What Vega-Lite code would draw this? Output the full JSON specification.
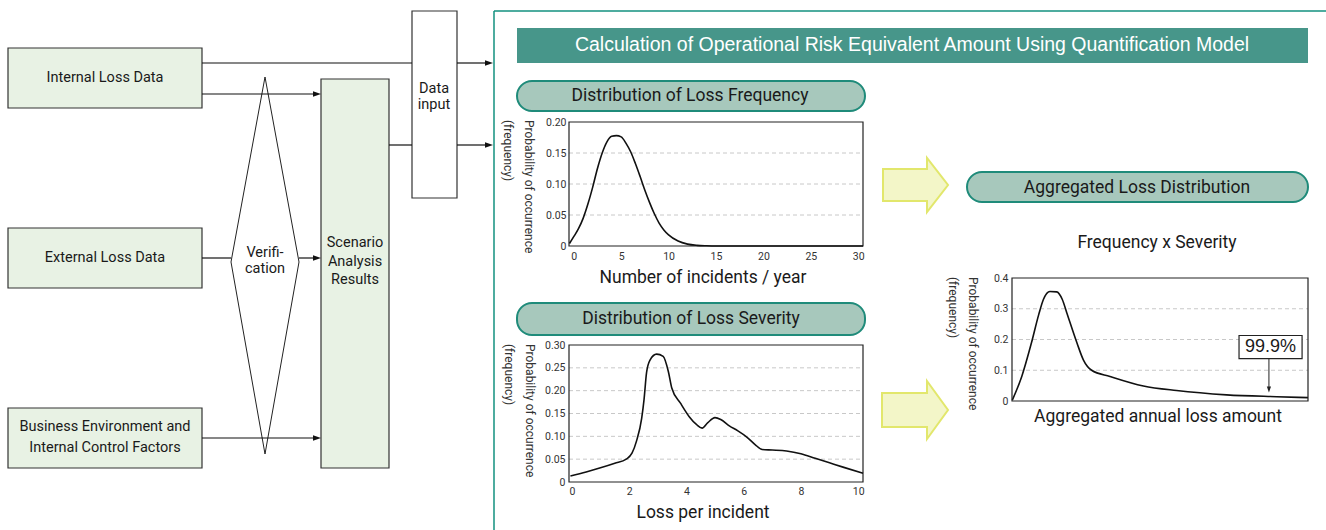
{
  "$schema": "https://vega.github.io/schema/vega-lite/v6.json",
  "width": 1326,
  "height": 530,
  "padding": 0,
  "autosize": {"type": "none"},
  "background": "white",
  "config": {
    "view": {"stroke": null},
    "font": "Roboto",
    "axis": {"labelColor": "#333333", "labelFont": "Roboto"}
  },
  "datasets": {
    "freq": [
      {"x": -0.45, "y": 0.004}, {"x": 0, "y": 0.015}, {"x": 0.5, "y": 0.028}, {"x": 1, "y": 0.045},
      {"x": 1.5, "y": 0.068}, {"x": 2, "y": 0.095}, {"x": 2.5, "y": 0.125}, {"x": 3, "y": 0.15},
      {"x": 3.5, "y": 0.168}, {"x": 4, "y": 0.177}, {"x": 4.5, "y": 0.178}, {"x": 5, "y": 0.176},
      {"x": 5.5, "y": 0.166}, {"x": 6, "y": 0.152}, {"x": 6.5, "y": 0.133}, {"x": 7, "y": 0.112},
      {"x": 7.5, "y": 0.09}, {"x": 8, "y": 0.07}, {"x": 8.5, "y": 0.052}, {"x": 9, "y": 0.037},
      {"x": 9.5, "y": 0.026}, {"x": 10, "y": 0.018}, {"x": 11, "y": 0.008}, {"x": 12, "y": 0.003},
      {"x": 13, "y": 0.001}, {"x": 14, "y": 0.0003}, {"x": 15, "y": 0}, {"x": 20, "y": 0},
      {"x": 25, "y": 0}, {"x": 30, "y": 0}, {"x": 30.5, "y": 0}
    ],
    "sev": [
      {"x": -0.05, "y": 0.013}, {"x": 0.5, "y": 0.022}, {"x": 1, "y": 0.031}, {"x": 1.5, "y": 0.041},
      {"x": 1.9, "y": 0.05}, {"x": 2.1, "y": 0.063}, {"x": 2.26, "y": 0.09}, {"x": 2.44, "y": 0.14},
      {"x": 2.52, "y": 0.18}, {"x": 2.61, "y": 0.24}, {"x": 2.73, "y": 0.267}, {"x": 2.96, "y": 0.28},
      {"x": 3.19, "y": 0.275}, {"x": 3.37, "y": 0.242}, {"x": 3.49, "y": 0.206}, {"x": 3.8, "y": 0.172},
      {"x": 4.1, "y": 0.143}, {"x": 4.35, "y": 0.126}, {"x": 4.55, "y": 0.118}, {"x": 4.75, "y": 0.13},
      {"x": 5.0, "y": 0.141}, {"x": 5.2, "y": 0.137}, {"x": 5.5, "y": 0.123}, {"x": 5.8, "y": 0.112},
      {"x": 6.1, "y": 0.099}, {"x": 6.4, "y": 0.082}, {"x": 6.65, "y": 0.071}, {"x": 7.0, "y": 0.07},
      {"x": 7.5, "y": 0.068}, {"x": 8.0, "y": 0.062}, {"x": 8.5, "y": 0.052}, {"x": 9, "y": 0.042},
      {"x": 9.5, "y": 0.032}, {"x": 10.17, "y": 0.019}
    ],
    "agg": [
      {"x": 0.1, "y": 0.003}, {"x": 3.3, "y": 0.08}, {"x": 6.6, "y": 0.19}, {"x": 9, "y": 0.28},
      {"x": 10.6, "y": 0.33}, {"x": 12.8, "y": 0.356}, {"x": 15.1, "y": 0.355}, {"x": 17, "y": 0.33},
      {"x": 18.5, "y": 0.287}, {"x": 21.9, "y": 0.19}, {"x": 24.1, "y": 0.134}, {"x": 26.9, "y": 0.1},
      {"x": 33.1, "y": 0.08}, {"x": 44.4, "y": 0.049}, {"x": 55.6, "y": 0.034}, {"x": 72.5, "y": 0.02},
      {"x": 89.4, "y": 0.014}, {"x": 100, "y": 0.011}
    ]
  },
  "layer": [
    {
      "layer": [
        {
          "data": {"values": [
            {"x": 494, "y": 11, "x2": 494, "y2": 530},
            {"x": 494, "y": 11, "x2": 1326, "y2": 11}
          ]},
          "mark": {"type": "rule", "color": "#13917f", "strokeWidth": 1.5},
          "encoding": {
            "x": {"field": "x", "type": "quantitative", "scale": {"domain": [0, 1326], "range": [0, 1326], "nice": false, "zero": false}, "axis": null},
            "y": {"field": "y", "type": "quantitative", "scale": {"domain": [0, 530], "range": [0, 530], "nice": false, "zero": false}, "axis": null},
            "x2": {"field": "x2"},
            "y2": {"field": "y2"}
          }
        },
        {
          "data": {"values": [
            {"x": 8, "x2": 202, "y": 48, "y2": 108},
            {"x": 8, "x2": 202, "y": 228, "y2": 288},
            {"x": 8, "x2": 202, "y": 408, "y2": 468},
            {"x": 321, "x2": 389, "y": 79, "y2": 468}
          ]},
          "mark": {"type": "rect", "fill": "#e8f2e4", "stroke": "#333333", "strokeWidth": 1.2},
          "encoding": {
            "x": {"field": "x", "type": "quantitative"}, "x2": {"field": "x2"},
            "y": {"field": "y", "type": "quantitative"}, "y2": {"field": "y2"}
          }
        },
        {
          "data": {"values": [{"x": 412, "x2": 457, "y": 11, "y2": 198}]},
          "mark": {"type": "rect", "fill": "white", "stroke": "#333333", "strokeWidth": 1.2},
          "encoding": {
            "x": {"field": "x", "type": "quantitative"}, "x2": {"field": "x2"},
            "y": {"field": "y", "type": "quantitative"}, "y2": {"field": "y2"}
          }
        },
        {
          "data": {"values": [{"x": 517, "x2": 1308, "y": 28, "y2": 63}]},
          "mark": {"type": "rect", "fill": "#47968a"},
          "encoding": {
            "x": {"field": "x", "type": "quantitative"}, "x2": {"field": "x2"},
            "y": {"field": "y", "type": "quantitative"}, "y2": {"field": "y2"}
          }
        },
        {
          "data": {"values": [
            {"x": 517, "x2": 865, "y": 81, "y2": 111},
            {"x": 517, "x2": 865, "y": 303, "y2": 335},
            {"x": 967, "x2": 1308, "y": 172, "y2": 202}
          ]},
          "mark": {"type": "rect", "fill": "#a7c8bc", "stroke": "#1f8b7a", "strokeWidth": 2, "cornerRadius": 15},
          "encoding": {
            "x": {"field": "x", "type": "quantitative"}, "x2": {"field": "x2"},
            "y": {"field": "y", "type": "quantitative"}, "y2": {"field": "y2"}
          }
        },
        {
          "data": {"values": [
            {"id": "v", "o": 1, "x": 265, "y": 77},
            {"id": "v", "o": 2, "x": 299, "y": 262},
            {"id": "v", "o": 3, "x": 265, "y": 454},
            {"id": "v", "o": 4, "x": 231, "y": 262}
          ]},
          "mark": {"type": "line", "interpolate": "linear-closed", "fill": "white", "stroke": "#222222", "strokeWidth": 1},
          "encoding": {
            "x": {"field": "x", "type": "quantitative"},
            "y": {"field": "y", "type": "quantitative"},
            "detail": {"field": "id"},
            "order": {"field": "o", "type": "quantitative"}
          }
        },
        {
          "data": {"values": [
            {"id": "a1", "o": 1, "x": 883, "y": 169}, {"id": "a1", "o": 2, "x": 927, "y": 169},
            {"id": "a1", "o": 3, "x": 927, "y": 158}, {"id": "a1", "o": 4, "x": 948, "y": 185},
            {"id": "a1", "o": 5, "x": 927, "y": 212}, {"id": "a1", "o": 6, "x": 927, "y": 201},
            {"id": "a1", "o": 7, "x": 883, "y": 201},
            {"id": "a2", "o": 1, "x": 882, "y": 393}, {"id": "a2", "o": 2, "x": 927, "y": 393},
            {"id": "a2", "o": 3, "x": 927, "y": 381}, {"id": "a2", "o": 4, "x": 948, "y": 410},
            {"id": "a2", "o": 5, "x": 927, "y": 439}, {"id": "a2", "o": 6, "x": 927, "y": 427},
            {"id": "a2", "o": 7, "x": 882, "y": 427}
          ]},
          "mark": {"type": "line", "interpolate": "linear-closed", "fill": "#f3f6c8", "stroke": "#e2e76c", "strokeWidth": 2},
          "encoding": {
            "x": {"field": "x", "type": "quantitative"},
            "y": {"field": "y", "type": "quantitative"},
            "detail": {"field": "id"},
            "order": {"field": "o", "type": "quantitative"}
          }
        },
        {
          "data": {"values": [
            {"x": 202, "y": 63, "x2": 412, "y2": 63},
            {"x": 457, "y": 63, "x2": 486, "y2": 63},
            {"x": 202, "y": 94, "x2": 314, "y2": 94},
            {"x": 202, "y": 258, "x2": 231, "y2": 258},
            {"x": 299, "y": 258, "x2": 314, "y2": 258},
            {"x": 202, "y": 438, "x2": 314, "y2": 438},
            {"x": 389, "y": 145, "x2": 412, "y2": 145},
            {"x": 457, "y": 145, "x2": 486, "y2": 145}
          ]},
          "mark": {"type": "rule", "color": "#111111", "strokeWidth": 1.2},
          "encoding": {
            "x": {"field": "x", "type": "quantitative"}, "x2": {"field": "x2"},
            "y": {"field": "y", "type": "quantitative"}, "y2": {"field": "y2"}
          }
        },
        {
          "data": {"values": [
            {"x": 317, "y": 94}, {"x": 317, "y": 258}, {"x": 317, "y": 438},
            {"x": 489, "y": 63}, {"x": 489, "y": 145}
          ]},
          "mark": {"type": "point", "shape": "M-1,-0.7L1,0L-1,0.7Z", "filled": true, "color": "#111111", "size": 64, "opacity": 1, "strokeWidth": 0},
          "encoding": {
            "x": {"field": "x", "type": "quantitative"},
            "y": {"field": "y", "type": "quantitative"}
          }
        },
        {
          "data": {"values": [
            {"x": 105, "y": 78, "t": "Internal Loss Data"},
            {"x": 105, "y": 258, "t": "External Loss Data"},
            {"x": 105, "y": 427, "t": "Business Environment and"},
            {"x": 105, "y": 448, "t": "Internal Control Factors"},
            {"x": 265, "y": 253, "t": "Verifi-"},
            {"x": 265, "y": 269, "t": "cation"},
            {"x": 355, "y": 243, "t": "Scenario"},
            {"x": 355, "y": 262, "t": "Analysis"},
            {"x": 355, "y": 280, "t": "Results"},
            {"x": 434, "y": 89, "t": "Data"},
            {"x": 434, "y": 105, "t": "input"}
          ]},
          "mark": {"type": "text", "fontSize": 14.5, "align": "center", "baseline": "middle", "color": "#1a1a1a"},
          "encoding": {
            "x": {"field": "x", "type": "quantitative"},
            "y": {"field": "y", "type": "quantitative"},
            "text": {"field": "t"}
          }
        },
        {
          "data": {"values": [
            {"x": 690, "y": 96, "t": "Distribution of Loss Frequency"},
            {"x": 691, "y": 319, "t": "Distribution of Loss Severity"},
            {"x": 1137, "y": 188, "t": "Aggregated Loss Distribution"},
            {"x": 1157, "y": 243, "t": "Frequency x Severity"},
            {"x": 703, "y": 278, "t": "Number of incidents / year"},
            {"x": 703, "y": 513, "t": "Loss per incident"},
            {"x": 1158, "y": 417, "t": "Aggregated annual loss amount"}
          ]},
          "mark": {"type": "text", "fontSize": 17.5, "align": "center", "baseline": "middle", "color": "#1a1a1a"},
          "encoding": {
            "x": {"field": "x", "type": "quantitative"},
            "y": {"field": "y", "type": "quantitative"},
            "text": {"field": "t"}
          }
        },
        {
          "data": {"values": [
            {"x": 529, "y": 120, "t": "Probability of occurrence"},
            {"x": 508, "y": 120, "t": "(frequency)"},
            {"x": 530, "y": 344, "t": "Probability of occurrence"},
            {"x": 509, "y": 344, "t": "(frequency)"},
            {"x": 973, "y": 277, "t": "Probability of occurrence"},
            {"x": 953, "y": 277, "t": "(frequency)"}
          ]},
          "mark": {"type": "text", "fontSize": 12, "align": "left", "baseline": "middle", "angle": 90, "color": "#333333"},
          "encoding": {
            "x": {"field": "x", "type": "quantitative"},
            "y": {"field": "y", "type": "quantitative"},
            "text": {"field": "t"}
          }
        },
        {
          "data": {"values": [
            {"x": 912, "y": 45, "t": "Calculation of Operational Risk Equivalent Amount Using Quantification Model"}
          ]},
          "mark": {"type": "text", "fontSize": 19.5, "font": "Liberation Sans, Arial, sans-serif", "align": "center", "baseline": "middle", "color": "white"},
          "encoding": {
            "x": {"field": "x", "type": "quantitative"},
            "y": {"field": "y", "type": "quantitative"},
            "text": {"field": "t"}
          }
        }
      ]
    },
    {
      "layer": [
        {
          "data": {"values": [{"g": 0.05}, {"g": 0.1}, {"g": 0.15}]},
          "mark": {"type": "rule", "color": "#c8c8c8", "strokeDash": [4, 3], "strokeWidth": 1},
          "encoding": {
            "y": {"field": "g", "type": "quantitative",
              "scale": {"domain": [0, 0.2], "range": [246, 122], "nice": false, "zero": false},
              "axis": {"orient": "left", "offset": -569, "values": [0, 0.05, 0.1, 0.15, 0.2], "labelExpr": "datum.value == 0 ? '0' : format(datum.value, '.2f')", "grid": false, "domain": false, "ticks": false, "labelPadding": 3, "labelFontSize": 10.5, "title": null}},
            "x": {"datum": -0.5, "type": "quantitative",
              "scale": {"domain": [-0.5, 30.5], "range": [569, 863], "nice": false, "zero": false},
              "axis": {"orient": "bottom", "offset": -284, "values": [0, 5, 10, 15, 20, 25, 30], "format": "d", "grid": false, "domain": false, "ticks": false, "labelPadding": 5, "labelFontSize": 10.5, "labelFlush": false, "title": null}},
            "x2": {"datum": 30.5}
          }
        },
        {
          "data": {"values": [{}]},
          "mark": {"type": "rect", "filled": false, "color": "#222222", "strokeWidth": 1.2},
          "encoding": {
            "x": {"datum": -0.5, "type": "quantitative"}, "x2": {"datum": 30.5},
            "y": {"datum": 0, "type": "quantitative"}, "y2": {"datum": 0.2}
          }
        },
        {
          "data": {"name": "freq"},
          "mark": {"type": "line", "interpolate": "monotone", "color": "#111111", "strokeWidth": 1.6},
          "encoding": {
            "x": {"field": "x", "type": "quantitative"},
            "y": {"field": "y", "type": "quantitative"}
          }
        }
      ]
    },
    {
      "layer": [
        {
          "data": {"values": [{"g": 0.05}, {"g": 0.1}, {"g": 0.15}, {"g": 0.2}, {"g": 0.25}]},
          "mark": {"type": "rule", "color": "#c8c8c8", "strokeDash": [4, 3], "strokeWidth": 1},
          "encoding": {
            "y": {"field": "g", "type": "quantitative",
              "scale": {"domain": [0, 0.3], "range": [482, 345], "nice": false, "zero": false},
              "axis": {"orient": "left", "offset": -569, "values": [0, 0.05, 0.1, 0.15, 0.2, 0.25, 0.3], "labelExpr": "datum.value == 0 ? '0' : format(datum.value, '.2f')", "grid": false, "domain": false, "ticks": false, "labelPadding": 4, "labelFontSize": 10.5, "title": null}},
            "x": {"datum": -0.1, "type": "quantitative",
              "scale": {"domain": [-0.1, 10.17], "range": [569, 863], "nice": false, "zero": false},
              "axis": {"orient": "bottom", "offset": -48, "values": [0, 2, 4, 6, 8, 10], "format": "d", "grid": false, "domain": false, "ticks": false, "labelPadding": 4, "labelFontSize": 10.5, "labelFlush": false, "title": null}},
            "x2": {"datum": 10.17}
          }
        },
        {
          "data": {"values": [{}]},
          "mark": {"type": "rect", "filled": false, "color": "#222222", "strokeWidth": 1.2},
          "encoding": {
            "x": {"datum": -0.1, "type": "quantitative"}, "x2": {"datum": 10.17},
            "y": {"datum": 0, "type": "quantitative"}, "y2": {"datum": 0.3}
          }
        },
        {
          "data": {"name": "sev"},
          "mark": {"type": "line", "interpolate": "monotone", "color": "#111111", "strokeWidth": 1.6},
          "encoding": {
            "x": {"field": "x", "type": "quantitative"},
            "y": {"field": "y", "type": "quantitative"}
          }
        }
      ]
    },
    {
      "layer": [
        {
          "data": {"values": [{"g": 0.1}, {"g": 0.2}, {"g": 0.3}]},
          "mark": {"type": "rule", "color": "#c8c8c8", "strokeDash": [4, 3], "strokeWidth": 1},
          "encoding": {
            "y": {"field": "g", "type": "quantitative",
              "scale": {"domain": [0, 0.4], "range": [401, 278], "nice": false, "zero": false},
              "axis": {"orient": "left", "offset": -1012, "values": [0, 0.1, 0.2, 0.3, 0.4], "labelExpr": "datum.value == 0 ? '0' : format(datum.value, '.1f')", "grid": false, "domain": false, "ticks": false, "labelPadding": 4, "labelFontSize": 10.5, "title": null}},
            "x": {"datum": 0, "type": "quantitative",
              "scale": {"domain": [0, 100], "range": [1012, 1308], "nice": false, "zero": false},
              "axis": null},
            "x2": {"datum": 100}
          }
        },
        {
          "data": {"name": "agg"},
          "mark": {"type": "line", "interpolate": "monotone", "color": "#111111", "strokeWidth": 1.6},
          "encoding": {
            "x": {"field": "x", "type": "quantitative"},
            "y": {"field": "y", "type": "quantitative"}
          }
        },
        {
          "data": {"values": [{}]},
          "mark": {"type": "rect", "filled": false, "color": "#222222", "strokeWidth": 1.2},
          "encoding": {
            "x": {"datum": 0, "type": "quantitative"}, "x2": {"datum": 100},
            "y": {"datum": 0, "type": "quantitative"}, "y2": {"datum": 0.4}
          }
        },
        {
          "data": {"values": [{"x": 76.7, "x2": 98, "y": 0.138, "y2": 0.213}]},
          "mark": {"type": "rect", "fill": "white", "stroke": "#222222", "strokeWidth": 1.2},
          "encoding": {
            "x": {"field": "x", "type": "quantitative"}, "x2": {"field": "x2"},
            "y": {"field": "y", "type": "quantitative"}, "y2": {"field": "y2"}
          }
        },
        {
          "data": {"values": [{"x": 86.8, "y": 0.138, "y2": 0.04}]},
          "mark": {"type": "rule", "color": "#222222", "strokeWidth": 1},
          "encoding": {
            "x": {"field": "x", "type": "quantitative"},
            "y": {"field": "y", "type": "quantitative"}, "y2": {"field": "y2"}
          }
        },
        {
          "data": {"values": [{"x": 86.8, "y": 0.037}]},
          "mark": {"type": "point", "shape": "M-0.7,-1L0,1L0.7,-1Z", "filled": true, "color": "#222222", "size": 36, "opacity": 1, "strokeWidth": 0},
          "encoding": {
            "x": {"field": "x", "type": "quantitative"},
            "y": {"field": "y", "type": "quantitative"}
          }
        },
        {
          "data": {"values": [{"x": 87.3, "y": 0.176, "t": "99.9%"}]},
          "mark": {"type": "text", "fontSize": 18, "font": "Liberation Sans, Arial, sans-serif", "align": "center", "baseline": "middle", "color": "#1a1a1a"},
          "encoding": {
            "x": {"field": "x", "type": "quantitative"},
            "y": {"field": "y", "type": "quantitative"},
            "text": {"field": "t"}
          }
        }
      ]
    }
  ],
  "resolve": {"scale": {"x": "independent", "y": "independent"}}
}
